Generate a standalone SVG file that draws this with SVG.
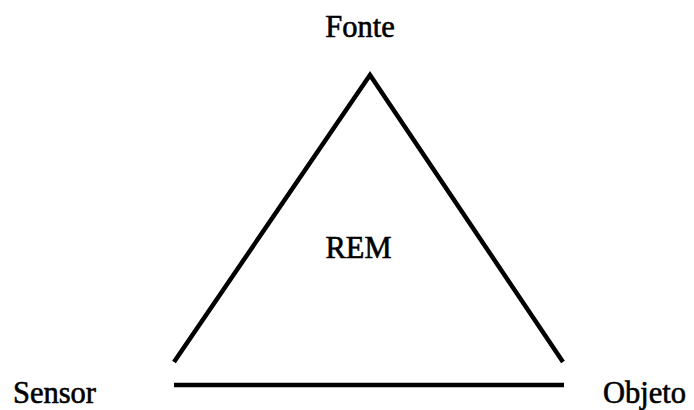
<svg xmlns="http://www.w3.org/2000/svg" width="694" height="410" viewBox="0 0 694 410">
<style>
.lbl{font-family:"Liberation Serif","Times New Roman",serif;font-size:30.5px;fill:#000;stroke:#000;stroke-width:0.6}
.edge{stroke:#000;stroke-width:4.5;fill:none;stroke-linejoin:miter}
</style>
<rect width="694" height="410" fill="#fff"/>
<g id="connectors">
<polyline class="edge" points="174,362 370,75 563,362"/>
<line class="edge" x1="174" y1="385" x2="564" y2="385" stroke-width="6"/>
</g>
<g id="fonte"><text class="lbl" x="360" y="37" text-anchor="middle">Fonte</text></g>
<g id="rem"><text class="lbl" x="358.5" y="258" text-anchor="middle">REM</text></g>
<g id="sensor"><text class="lbl" x="13" y="403">Sensor</text></g>
<g id="objeto"><text class="lbl" x="603" y="403">Objeto</text></g>
</svg>
